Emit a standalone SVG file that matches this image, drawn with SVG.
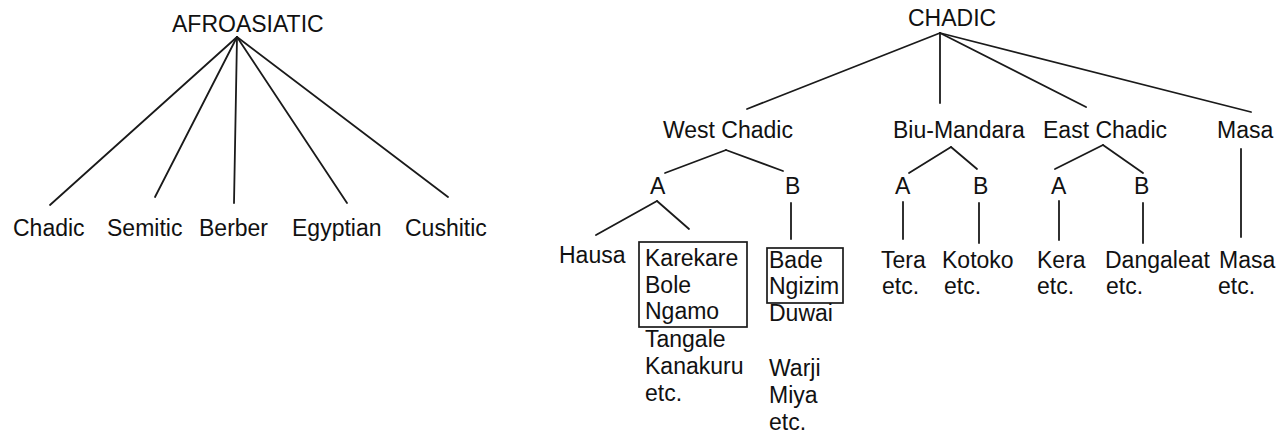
<svg xmlns="http://www.w3.org/2000/svg" width="1286" height="436" viewBox="0 0 1286 436">
<style>
text{font-family:"Liberation Sans",Arial,sans-serif;font-size:23px;fill:#111}
.c line{stroke:#1a1a1a;stroke-width:1.8;stroke-linecap:round}
.box{fill:none;stroke:#1a1a1a;stroke-width:1.7}
</style>
<rect width="1286" height="436" fill="#fff"/>
<g class="c" id="connectors">
<line x1="237" y1="37" x2="50" y2="205"/>
<line x1="237" y1="37" x2="155" y2="197"/>
<line x1="237" y1="37" x2="234" y2="203"/>
<line x1="237" y1="37" x2="347" y2="203"/>
<line x1="237" y1="37" x2="448" y2="197"/>
<line x1="940" y1="33" x2="747" y2="109"/>
<line x1="940" y1="33" x2="940" y2="103"/>
<line x1="940" y1="33" x2="1086" y2="107"/>
<line x1="940" y1="33" x2="1251" y2="112"/>
<line x1="726" y1="150" x2="665" y2="173"/>
<line x1="726" y1="150" x2="783" y2="171"/>
<line x1="951" y1="147" x2="909" y2="173"/>
<line x1="951" y1="147" x2="977" y2="169"/>
<line x1="1103" y1="145" x2="1055" y2="169"/>
<line x1="1103" y1="145" x2="1143" y2="173"/>
<line x1="1241" y1="149" x2="1241" y2="237"/>
<line x1="657" y1="201" x2="596" y2="235"/>
<line x1="657" y1="201" x2="689" y2="229"/>
<line x1="791" y1="203" x2="791" y2="239"/>
<line x1="903" y1="202" x2="903" y2="239"/>
<line x1="979" y1="203" x2="979" y2="243"/>
<line x1="1059" y1="201" x2="1059" y2="240"/>
<line x1="1143" y1="203" x2="1143" y2="243"/>
</g>
<g id="afroasiatic"><text x="172" y="32">AFROASIATIC</text></g>
<g id="chadic-l"><text x="13" y="236">Chadic</text></g>
<g id="semitic"><text x="107" y="236">Semitic</text></g>
<g id="berber"><text x="199" y="236">Berber</text></g>
<g id="egyptian"><text x="292" y="236">Egyptian</text></g>
<g id="cushitic"><text x="405" y="236">Cushitic</text></g>
<g id="chadic"><text x="908" y="26">CHADIC</text></g>
<g id="west"><text x="663" y="138">West Chadic</text></g>
<g id="biu"><text x="893" y="138">Biu-Mandara</text></g>
<g id="east"><text x="1043" y="138">East Chadic</text></g>
<g id="masa2"><text x="1217" y="138">Masa</text></g>
<g id="wa"><text x="650" y="194">A</text></g>
<g id="wb"><text x="785" y="194">B</text></g>
<g id="ba"><text x="895" y="194">A</text></g>
<g id="bb"><text x="973" y="194">B</text></g>
<g id="ea"><text x="1051" y="194">A</text></g>
<g id="eb"><text x="1134" y="194">B</text></g>
<g id="hausa"><text x="559" y="263">Hausa</text></g>
<g id="karekare">
<rect class="box" x="639" y="242" width="108" height="85"/>
<text x="645" y="266">Karekare</text>
<text x="645" y="293">Bole</text>
<text x="645" y="319">Ngamo</text>
<text x="645" y="347">Tangale</text>
<text x="645" y="374">Kanakuru</text>
<text x="645" y="401">etc.</text>
</g>
<g id="bade">
<rect class="box" x="767" y="248" width="76" height="55"/>
<text x="769" y="268">Bade</text>
<text x="769" y="294">Ngizim</text>
<text x="769" y="321">Duwai</text>
<text x="769" y="376">Warji</text>
<text x="769" y="403">Miya</text>
<text x="769" y="430">etc.</text>
</g>
<g id="tera"><text x="881" y="268">Tera</text><text x="882" y="294">etc.</text></g>
<g id="kotoko"><text x="942" y="268">Kotoko</text><text x="944" y="294">etc.</text></g>
<g id="kera"><text x="1037" y="268">Kera</text><text x="1037" y="294">etc.</text></g>
<g id="dangaleat"><text x="1105" y="268">Dangaleat</text><text x="1106" y="294">etc.</text></g>
<g id="masa"><text x="1219" y="268">Masa</text><text x="1218" y="294">etc.</text></g>
</svg>
